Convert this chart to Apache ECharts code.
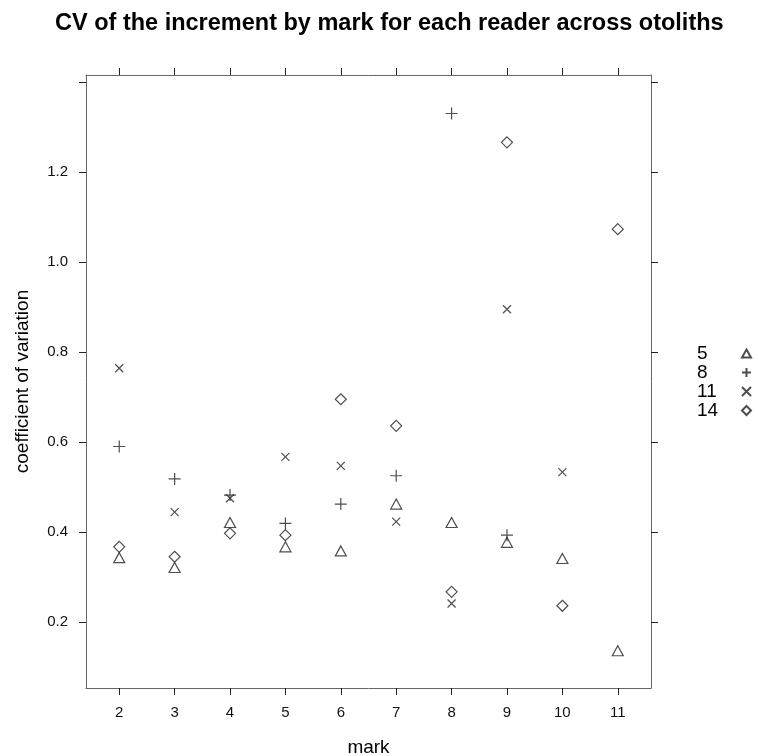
<!DOCTYPE html>
<html>
<head>
<meta charset="utf-8">
<script src="https://cdn.jsdelivr.net/npm/echarts@6/dist/echarts.min.js"></script>
<style>
  html, body { margin: 0; padding: 0; background: #fff; }
  #chart { width: 758px; height: 756px; }
</style>
</head>
<body>
<div id="chart"></div>
<script>
// marks on the x axis
var marks = [2, 3, 4, 5, 6, 7, 8, 9, 10, 11]
// CV per reader (null = no value)
var reader5 = [0.343, 0.321, 0.421, 0.367, 0.358, 0.462, 0.421, 0.377, 0.341, 0.136]
var reader8 = [0.590, 0.518, 0.482, 0.419, 0.462, 0.525, 1.330, 0.393, null, null]
var reader11 = [0.764, 0.444, 0.475, 0.567, 0.547, 0.423, 0.241, 0.895, 0.533, null]
var reader14 = [0.367, 0.345, 0.397, 0.393, 0.695, 0.636, 0.267, 1.266, 0.236, 1.073]
var yTicks = [0.2, 0.4, 0.6, 0.8, 1.0, 1.2, 1.4]
var yLabels = [0.2, 0.4, 0.6, 0.8, 1.0, 1.2]

function pairs(vals) {
  var out = []
  vals.forEach(function (v, i) {
    if (v !== null) out.push([marks[i], v])
  })
  return out
}

var ink = '#222'
var boxColor = '#666'
var font = 'Liberation Sans'

var readers = [
  { name: '5', data: reader5, symbol: 'path://M5,0 L10,9 L0,9 Z', size: [11, 10] },
  { name: '8', data: reader8, symbol: 'path://M5,0 L5,10 M0,5 L10,5', size: 12 },
  { name: '11', data: reader11, symbol: 'path://M0,0 L10,10 M10,0 L0,10', size: 8 },
  { name: '14', data: reader14, symbol: 'path://M5,0 L10,5 L5,10 L0,5 Z', size: 11 }
]

var myChart = echarts.init(document.getElementById('chart'))

var xCommon = {
  type: 'value',
  min: 1.4,
  max: 11.6,
  splitLine: { show: false },
  axisLine: { show: true, onZero: false, lineStyle: { color: boxColor, width: 1 } },
  axisTick: { show: true, length: 7, customValues: marks, lineStyle: { color: ink } }
}
var yCommon = {
  type: 'value',
  min: 0.0533,
  max: 1.4156,
  splitLine: { show: false },
  axisLine: { show: true, onZero: false, lineStyle: { color: boxColor, width: 1 } },
  axisTick: { show: true, length: 7, customValues: yTicks, lineStyle: { color: ink } }
}

var option = {
  animation: false,
  backgroundColor: '#fff',
  textStyle: { fontFamily: font },
  title: {
    text: 'CV of the increment by mark for each reader across otoliths',
    left: 55,
    top: 12,
    padding: 0,
    textStyle: { fontFamily: font, fontSize: 23.5, fontWeight: 'bold', color: '#000' }
  },
  legend: {
    orient: 'vertical',
    left: 697,
    top: 344,
    padding: 0,
    align: 'right',
    itemGap: 0,
    itemWidth: 9,
    itemHeight: 9,
    formatter: '{a|{name}}',
    textStyle: {
      fontFamily: font, fontSize: 19, color: '#000',
      rich: { a: { width: 40, align: 'left', fontSize: 19, lineHeight: 19, fontFamily: font, color: '#000' } }
    },
    data: readers.map(function (r) { return r.name })
  },
  grid: { left: 86, right: 107, top: 75, bottom: 68, outerBoundsMode: 'none' },
  xAxis: [
    Object.assign({}, xCommon, {
      position: 'bottom',
      name: 'mark',
      nameLocation: 'middle',
      nameGap: 50,
      nameTextStyle: { fontFamily: font, fontSize: 19, color: '#000' },
      axisLabel: { show: true, customValues: marks, margin: 17, fontSize: 15, color: '#111', fontFamily: font }
    }),
    Object.assign({}, xCommon, {
      position: 'top',
      axisLabel: { show: false }
    })
  ],
  yAxis: [
    Object.assign({}, yCommon, {
      position: 'left',
      name: 'coefficient of variation',
      nameLocation: 'middle',
      nameGap: 54,
      nameTextStyle: { fontFamily: font, fontSize: 19, color: '#000' },
      axisLabel: {
        show: true, customValues: yLabels, margin: 18, fontSize: 15, color: '#111', fontFamily: font,
        formatter: function (v) { return v.toFixed(1) }
      }
    }),
    Object.assign({}, yCommon, {
      position: 'right',
      axisLabel: { show: false }
    })
  ],
  series: readers.map(function (r) {
    return {
      name: r.name,
      type: 'scatter',
      xAxisIndex: 0,
      yAxisIndex: 0,
      symbol: r.symbol,
      symbolSize: r.size,
      itemStyle: { color: 'rgba(0,0,0,0)', borderColor: ink, borderWidth: 1.2 },
      data: pairs(r.data)
    }
  })
}

myChart.setOption(option)
</script>
</body>
</html>
